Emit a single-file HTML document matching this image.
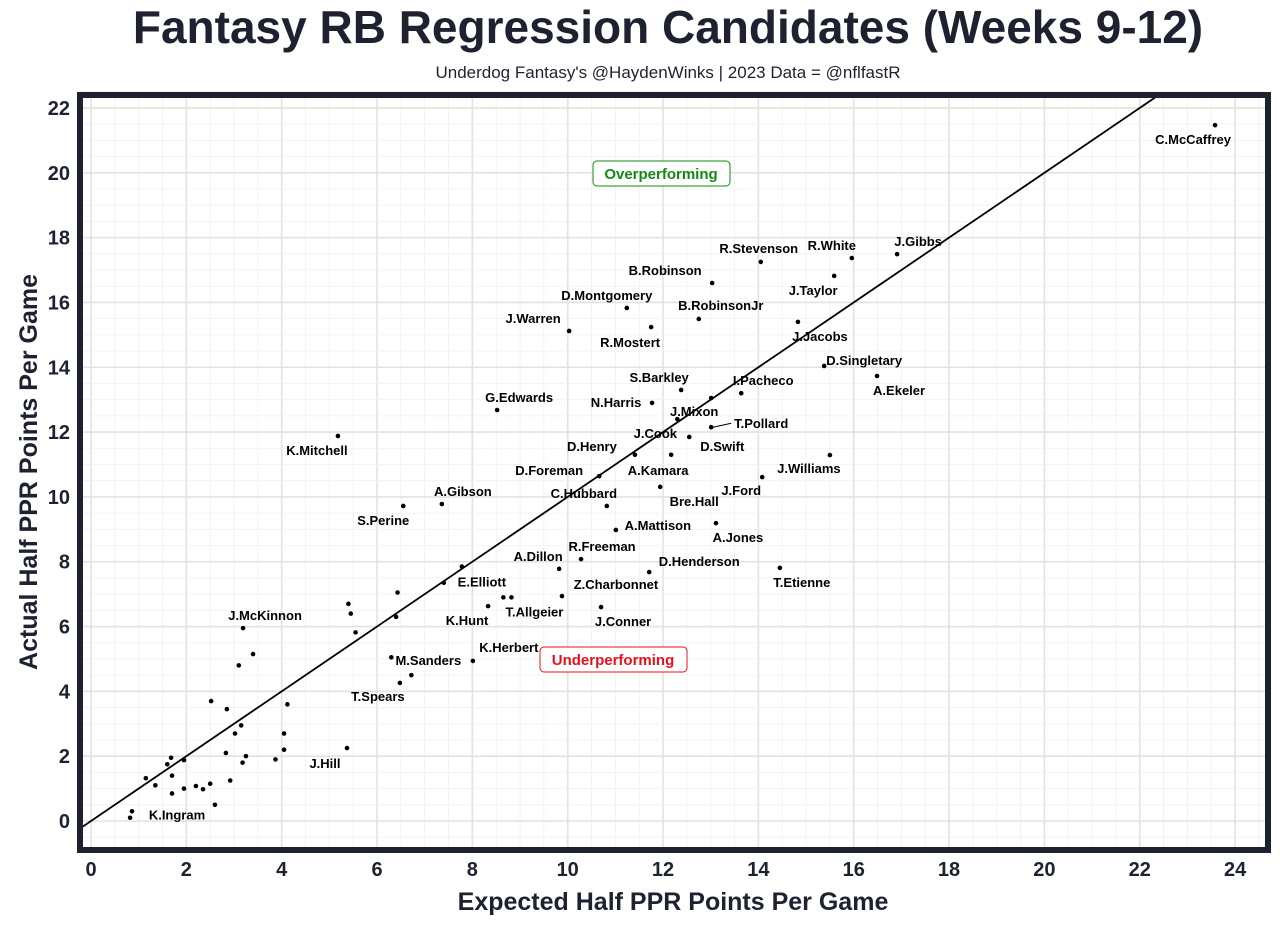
<!DOCTYPE html>
<html><head><meta charset="utf-8"><style>
body{margin:0;background:#fff;font-family:"Liberation Sans",sans-serif;}
svg text{font-family:"Liberation Sans",sans-serif;}
</style></head><body>
<svg width="1280" height="926" xmlns="http://www.w3.org/2000/svg">
<text x="668" y="43" text-anchor="middle" font-size="46" font-weight="bold" fill="#1e2230">Fantasy RB Regression Candidates (Weeks 9-12)</text>
<text x="668" y="78" text-anchor="middle" font-size="17" fill="#1e2230">Underdog Fantasy's @HaydenWinks | 2023 Data = @nflfastR</text>
<g id="grid"></g>
<g id="line"></g>
<g id="pts"></g>
<g id="ticks"></g>
<rect x="80" y="95" width="1188" height="755" fill="none" stroke="#1e2230" stroke-width="6"/>
<text x="673" y="910" text-anchor="middle" font-size="25" font-weight="bold" fill="#1e2230">Expected Half PPR Points Per Game</text>
<text transform="translate(37,472) rotate(-90)" text-anchor="middle" font-size="25" font-weight="bold" fill="#1e2230">Actual Half PPR Points Per Game</text>
<rect x="593" y="161" width="137" height="25" rx="4" fill="#fff" stroke="#138a13"/>
<text x="661" y="179" text-anchor="middle" font-size="15" font-weight="bold" fill="#138a13">Overperforming</text>
<rect x="540" y="647" width="147" height="25" rx="4" fill="#fff" stroke="#e8101a"/>
<text x="613" y="665" text-anchor="middle" font-size="15" font-weight="bold" fill="#e8101a">Underperforming</text>
</svg>
<script>
const names=["C.McCaffrey","J.Gibbs","R.White","R.Stevenson","J.Taylor","B.Robinson","D.Montgomery","B.RobinsonJr","R.Mostert","J.Warren","J.Jacobs","D.Singletary","A.Ekeler","S.Barkley","I.Pacheco","N.Harris","J.Mixon","J.Cook","T.Pollard","D.Swift","D.Henry","A.Kamara","Bre.Hall","J.Ford","G.Edwards","K.Mitchell","J.Williams","D.Foreman","C.Hubbard","A.Gibson","S.Perine","A.Mattison","A.Jones","R.Freeman","A.Dillon","D.Henderson","T.Etienne","E.Elliott","Z.Charbonnet","T.Allgeier","K.Hunt","J.Conner","J.McKinnon","K.Herbert","M.Sanders","T.Spears","J.Hill","K.Ingram"];
const xVals=[23.58,16.91,15.96,14.05,15.59,13.03,11.24,12.75,11.75,10.03,14.83,15.38,16.49,12.38,13.64,11.77,13.01,12.3,13.01,12.55,11.41,12.17,11.94,14.08,8.52,5.18,15.5,10.66,10.82,7.36,6.55,11.01,13.11,10.28,9.82,11.71,14.45,7.78,9.88,8.82,8.33,10.70,3.19,8.01,6.72,6.48,5.37,0.86];
const yVals=[21.47,17.49,17.37,17.25,16.82,16.6,15.83,15.49,15.24,15.12,15.4,14.04,13.73,13.3,13.2,12.9,13.05,12.4,12.15,11.85,11.3,11.3,10.31,10.61,12.68,11.88,11.29,10.64,9.72,9.78,9.72,8.98,9.19,8.08,7.78,7.68,7.81,7.85,6.94,6.9,6.63,6.6,5.95,4.94,4.5,4.26,2.25,0.3];
const extraX=[0.82,1.15,1.35,1.6,1.68,1.7,1.7,1.95,1.95,2.2,2.35,2.5,2.6,2.52,2.83,2.85,2.92,3.02,3.1,3.15,3.18,3.25,3.4,3.87,4.05,4.05,4.12,5.4,5.45,5.55,6.3,6.4,6.43,7.4,8.65];
const extraY=[0.1,1.32,1.1,1.75,1.95,0.85,1.4,1.0,1.88,1.08,0.98,1.15,0.5,3.7,2.1,3.45,1.25,2.7,4.8,2.95,1.8,2.0,5.15,1.9,2.7,2.2,3.6,6.7,6.4,5.82,5.05,6.3,7.05,7.35,6.9];
const xTicks=[0,2,4,6,8,10,12,14,16,18,20,22,24];
const yTicks=[0,2,4,6,8,10,12,14,16,18,20,22];
const labelOffsets={"C.McCaffrey":[-22,15],"J.Gibbs":[21,-12],"R.White":[-20,-12],"R.Stevenson":[-2,-13],"J.Taylor":[-21,15],"B.Robinson":[-47,-12],"D.Montgomery":[-20,-12],"B.RobinsonJr":[22,-13],"R.Mostert":[-21,16],"J.Warren":[-36,-12],"J.Jacobs":[22,15],"D.Singletary":[40,-5],"A.Ekeler":[22,15],"S.Barkley":[-22,-12],"I.Pacheco":[22,-12],"N.Harris":[-36,0],"J.Mixon":[-17,14],"J.Cook":[-22,15],"T.Pollard":[50,-3],"D.Swift":[33,10],"D.Henry":[-43,-8],"A.Kamara":[-13,16],"Bre.Hall":[34,15],"J.Ford":[-21,14],"G.Edwards":[22,-12],"K.Mitchell":[-21,15],"J.Williams":[-21,14],"D.Foreman":[-50,-5],"C.Hubbard":[-23,-12],"A.Gibson":[21,-12],"S.Perine":[-20,15],"A.Mattison":[42,-4],"A.Jones":[22,15],"R.Freeman":[21,-12],"A.Dillon":[-21,-12],"D.Henderson":[50,-10],"T.Etienne":[22,15],"E.Elliott":[20,16],"Z.Charbonnet":[54,-11],"T.Allgeier":[23,15],"K.Hunt":[-21,15],"J.Conner":[22,15],"J.McKinnon":[22,-12],"K.Herbert":[36,-13],"M.Sanders":[17,-14],"T.Spears":[-22,14],"J.Hill":[-22,16],"K.Ingram":[45,4]};
const NS="http://www.w3.org/2000/svg";
const X=v=>91+v*47.67, Y=v=>821-v*32.41;
function mk(t,a,p){const e=document.createElementNS(NS,t);for(const k in a)e.setAttribute(k,a[k]);p.appendChild(e);return e;}
const grid=document.getElementById('grid');
for(let v=-0.5;v<=24.9;v+=0.5){if(v<-0.2)continue;const maj=Number.isInteger(v/2);const l=mk('line',{x1:X(v),x2:X(v),y1:95,y2:850,stroke:maj?'#e2e2e2':'#f0f0f0','stroke-width':maj?1.6:0.8},grid);

}
for(let v=-0.5;v<=22.9;v+=0.5){const maj=Number.isInteger(v/2);const l=mk('line',{x1:80,x2:1268,y1:Y(v),y2:Y(v),stroke:maj?'#e2e2e2':'#f0f0f0','stroke-width':maj?1.6:0.8},grid);

}
const ln=mk('line',{x1:X(-0.2),y1:Y(-0.2),x2:X(22.4),y2:Y(22.4),stroke:'#000','stroke-width':1.8},document.getElementById('line'));


const pts=document.getElementById('pts');
for(let i=0;i<extraX.length;i++){const c=mk('circle',{cx:X(extraX[i]),cy:Y(extraY[i]),r:2.3,fill:'#000'},pts);

}
for(let i=0;i<names.length;i++){const cx=X(xVals[i]),cy=Y(yVals[i]);const c=mk('circle',{cx:cx,cy:cy,r:2.3,fill:'#000'},pts);


const o=labelOffsets[names[i]]||[0,-12];
if(names[i]==="T.Pollard"){const s=mk('line',{x1:cx+2,y1:cy,x2:cx+20,y2:cy-4,stroke:'#000','stroke-width':1},pts);

}
const t=mk('text',{x:cx+o[0],y:cy+o[1]+4,'text-anchor':'middle','font-size':13,'font-weight':'bold',fill:'#000'},pts);t.textContent=names[i];

}
const tk=document.getElementById('ticks');
xTicks.forEach(v=>{const t=mk('text',{x:X(v),y:876,'text-anchor':'middle','font-size':20,'font-weight':'bold',fill:'#1e2230'},tk);t.textContent=v;

});
yTicks.forEach(v=>{const t=mk('text',{x:70,y:Y(v)+7,'text-anchor':'end','font-size':20,'font-weight':'bold',fill:'#1e2230'},tk);t.textContent=v;

});
</script>
</body></html>
